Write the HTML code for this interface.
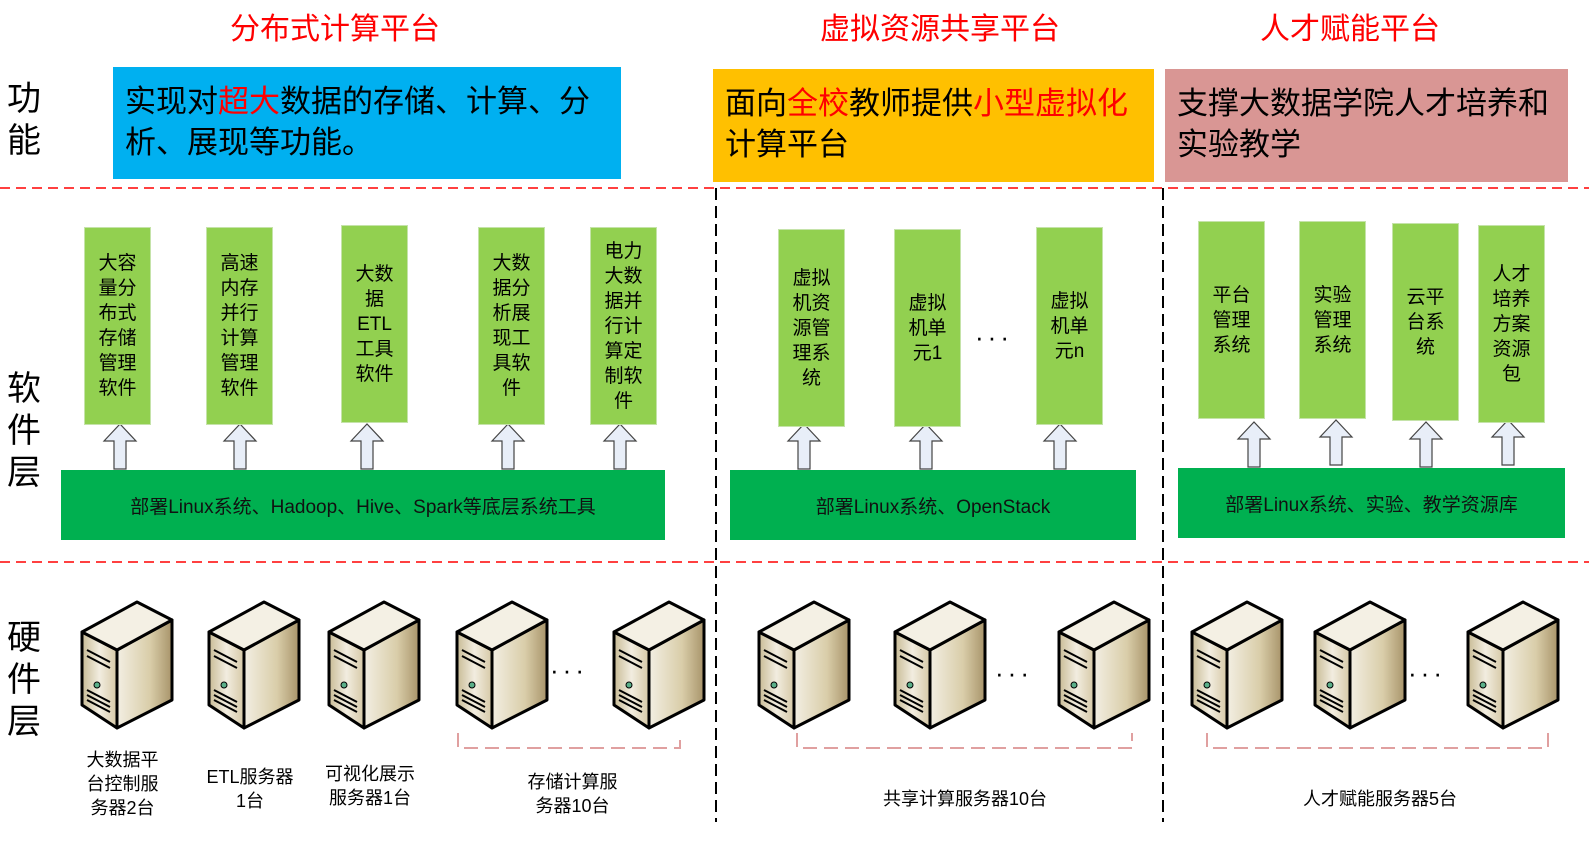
<!DOCTYPE html>
<html><head><meta charset="utf-8"><style>
body{margin:0;width:1589px;height:844px;background:#fff;position:relative;overflow:hidden;font-family:"Liberation Sans","Noto Sans CJK SC",sans-serif}
.a{position:absolute}
.t{color:#ff0000;font-size:30px;text-align:center}
.side{font-size:34px;line-height:42px;width:40px;text-align:center;left:4px}
.fb{font-size:31px;line-height:41px;padding:14px 12px;box-sizing:border-box}
.g{background:#92d050;border:1px solid #c5e3a9;box-sizing:border-box;font-size:19px;line-height:25px;display:flex;align-items:center;justify-content:center;text-align:center}
.bar{background:#00b050;color:#111;font-size:19px;display:flex;align-items:center;justify-content:center}
.cap{font-size:18px;line-height:24px;text-align:center}
.dots{font-size:26px;letter-spacing:4px}
</style></head><body>
<svg class="a" style="left:0;top:0" width="1589" height="844">
<defs>
<linearGradient id="fr" x1="0" x2="1"><stop offset="0" stop-color="#c8bb95"/><stop offset=".5" stop-color="#f2ede0"/><stop offset="1" stop-color="#d6c9a6"/></linearGradient>
<linearGradient id="sd" x1="0" x2="1"><stop offset="0" stop-color="#f3efe3"/><stop offset=".6" stop-color="#d9cda9"/><stop offset="1" stop-color="#a8946a"/></linearGradient>
<g id="sv" stroke="#000" stroke-width="3" stroke-linejoin="round">
<polygon points="2,32 37,50 37,128 2,105" fill="url(#fr)"/>
<polygon points="37,50 92,20 92,100 37,128" fill="url(#sd)"/>
<polygon points="2,32 57,2 92,20 37,50" fill="#f4f0e4"/>
<path d="M7,50 L30,62 M7,56 L30,68 M7,90 L30,102 M7,95 L30,107 M7,100 L30,112" stroke-width="2" fill="none"/>
<circle cx="17" cy="85" r="3" fill="#5bb08a" stroke-width="1"/>
</g>
<g id="ar" fill="#e8eef8" stroke="#444" stroke-width="1.2"><polygon points="0,17 16,0 32,17 22,17 22,45 10,45 10,17"/></g>
</defs>
<g stroke="#ff0000" stroke-width="1.5" stroke-dasharray="10,6"><line x1="0" y1="188" x2="1589" y2="188"/><line x1="0" y1="562" x2="1589" y2="562"/></g>
<g stroke="#000" stroke-width="2" stroke-dasharray="12,6"><line x1="716" y1="188" x2="716" y2="822"/><line x1="1163" y1="188" x2="1163" y2="822"/></g>
<g stroke="#e0a0a0" stroke-width="2" stroke-dasharray="14,7" fill="none">
<polyline points="458,733 458,748 680,748 680,733"/>
<polyline points="797,733 797,748 1132,748 1132,733"/>
<polyline points="1207,733 1207,748 1548,748 1548,733"/>
</g>
<use href="#ar" x="104" y="424"/><use href="#ar" x="224" y="424"/><use href="#ar" x="351" y="424"/><use href="#ar" x="492" y="424"/><use href="#ar" x="604" y="424"/>
<use href="#ar" x="788" y="424"/><use href="#ar" x="910" y="424"/><use href="#ar" x="1044" y="424"/>
<use href="#ar" x="1238" y="422"/><use href="#ar" x="1320" y="420"/><use href="#ar" x="1410" y="422"/><use href="#ar" x="1492" y="420"/>
<use href="#sv" x="80" y="600"/><use href="#sv" x="207" y="600"/><use href="#sv" x="327" y="600"/><use href="#sv" x="455" y="600"/><use href="#sv" x="612" y="600"/>
<use href="#sv" x="757" y="600"/><use href="#sv" x="893" y="600"/><use href="#sv" x="1057" y="600"/>
<use href="#sv" x="1190" y="600"/><use href="#sv" x="1313" y="600"/><use href="#sv" x="1466" y="600"/>
</svg>
<div class="a t" style="left:190px;top:4px;width:290px">分布式计算平台</div>
<div class="a t" style="left:780px;top:4px;width:320px">虚拟资源共享平台</div>
<div class="a t" style="left:1220px;top:4px;width:260px">人才赋能平台</div>
<div class="a side" style="top:78px">功能</div>
<div class="a side" style="top:368px">软件层</div>
<div class="a side" style="top:617px">硬件层</div>
<div class="a fb" style="left:113px;top:67px;width:508px;height:112px;background:#00b0f0">实现对<span style="color:#ff0000">超大</span>数据的存储、计算、分析、展现等功能。</div>
<div class="a fb" style="left:713px;top:69px;width:441px;height:113px;background:#ffc000">面向<span style="color:#ff0000">全校</span>教师提供<span style="color:#ff0000">小型虚拟化</span>计算平台</div>
<div class="a fb" style="left:1165px;top:69px;width:403px;height:113px;background:#d99694">支撑大数据学院人才培养和实验教学</div>
<div class="a g" style="left:84px;top:227px;width:67px;height:198px">大容<br>量分<br>布式<br>存储<br>管理<br>软件</div>
<div class="a g" style="left:206px;top:227px;width:67px;height:198px">高速<br>内存<br>并行<br>计算<br>管理<br>软件</div>
<div class="a g" style="left:341px;top:225px;width:67px;height:198px">大数<br>据<br>ETL<br>工具<br>软件</div>
<div class="a g" style="left:478px;top:227px;width:67px;height:198px">大数<br>据分<br>析展<br>现工<br>具软<br>件</div>
<div class="a g" style="left:590px;top:227px;width:67px;height:198px">电力<br>大数<br>据并<br>行计<br>算定<br>制软<br>件</div>
<div class="a g" style="left:778px;top:229px;width:67px;height:198px">虚拟<br>机资<br>源管<br>理系<br>统</div>
<div class="a g" style="left:894px;top:229px;width:67px;height:198px">虚拟<br>机单<br>元1</div>
<div class="a dots" style="left:975px;top:322px">···</div>
<div class="a g" style="left:1036px;top:227px;width:67px;height:198px">虚拟<br>机单<br>元n</div>
<div class="a g" style="left:1198px;top:221px;width:67px;height:198px">平台<br>管理<br>系统</div>
<div class="a g" style="left:1299px;top:221px;width:67px;height:198px">实验<br>管理<br>系统</div>
<div class="a g" style="left:1392px;top:223px;width:67px;height:198px">云平<br>台系<br>统</div>
<div class="a g" style="left:1478px;top:225px;width:67px;height:198px">人才<br>培养<br>方案<br>资源<br>包</div>
<div class="a bar" style="left:61px;top:470px;width:604px;height:70px">部署Linux系统、Hadoop、Hive、Spark等底层系统工具</div>
<div class="a bar" style="left:730px;top:470px;width:406px;height:70px">部署Linux系统、OpenStack</div>
<div class="a bar" style="left:1178px;top:468px;width:387px;height:70px">部署Linux系统、实验、教学资源库</div>
<div class="a dots" style="left:550px;top:655px">···</div>
<div class="a dots" style="left:995px;top:658px">···</div>
<div class="a dots" style="left:1408px;top:658px">···</div>
<div class="a cap" style="left:70px;top:748px;width:105px">大数据平<br>台控制服<br>务器2台</div>
<div class="a cap" style="left:195px;top:765px;width:110px">ETL服务器<br>1台</div>
<div class="a cap" style="left:315px;top:762px;width:110px">可视化展示<br>服务器1台</div>
<div class="a cap" style="left:510px;top:770px;width:125px">存储计算服<br>务器10台</div>
<div class="a cap" style="left:850px;top:787px;width:230px">共享计算服务器10台</div>
<div class="a cap" style="left:1270px;top:787px;width:220px">人才赋能服务器5台</div>
</body></html>
